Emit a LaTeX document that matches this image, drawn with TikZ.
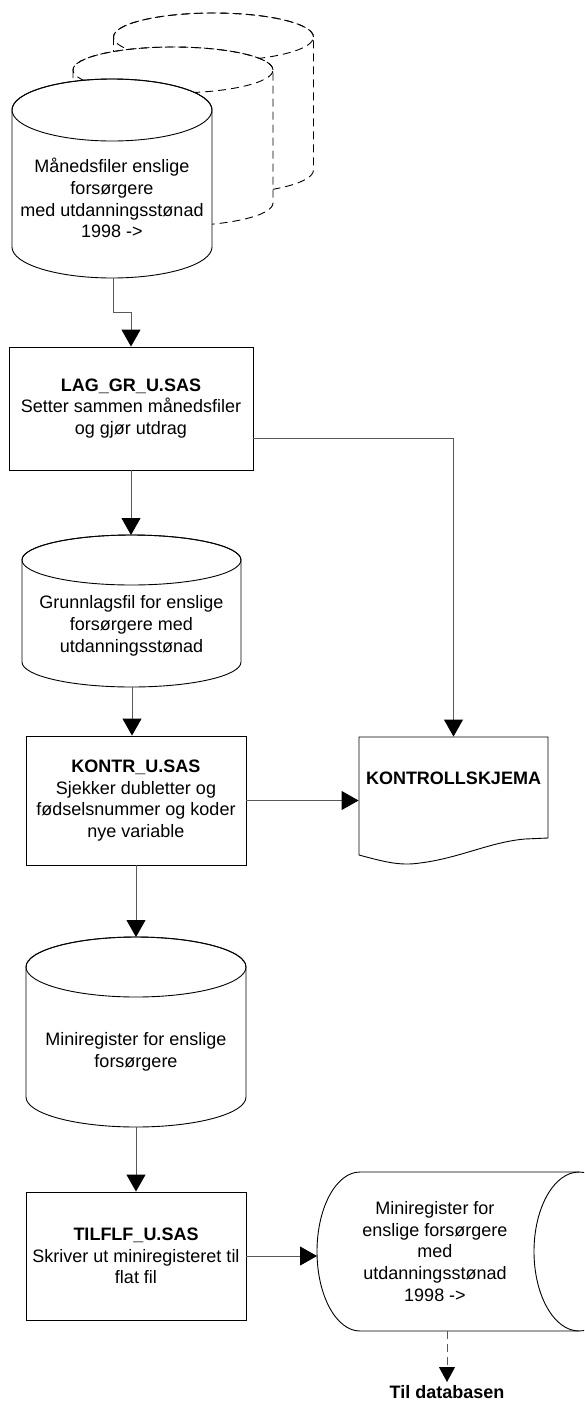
\documentclass[tikz,border=0pt]{standalone}
\usepackage{fontspec}
\setmainfont{Liberation Sans}
\usetikzlibrary{arrows.meta}
% #2 = x of axis, #3 = top of side, #4 = bottom of side, #5 = x radius, #6 = y radius
\newcommand{\drum}[6][]{%
  \filldraw[fill=white,#1] (#2-#5,#3) -- (#2-#5,#4)
    arc[start angle=180,end angle=360,x radius=#5pt,y radius=#6pt]
    -- (#2+#5,#3)
    arc[start angle=0,end angle=180,x radius=#5pt,y radius=#6pt] -- cycle;
  \draw[#1] (#2,#3) ellipse[x radius=#5pt,y radius=#6pt];}

\begin{document}
\begin{tikzpicture}[x=1pt,y=-1pt,line width=0.9pt,
  every node/.style={font=\fontsize{18}{21.7}\selectfont,align=center},
  proc/.style={draw,rectangle,inner sep=0pt},
  dashline/.style={dash pattern=on 8pt off 5pt},
  flow/.style={black!65,-{Triangle[length=17pt,width=19pt,color=black]}}]
  \useasboundingbox (0,0) rectangle (584,1409);
  \clip (0,0) rectangle (584,1409);
  % stack of monthly files
   \drum[dashline]{213.5}{37}{170}{100}{24}
   \drum[dashline]{173}{70}{203}{100}{23}
   \drum{112}{110}{247}{100}{31}
   \coordinate (MfilBot) at (113,278);
  \node (Mfil) at (112,198) {Månedsfiler enslige\\forsørgere\\med utdanningsstønad\\1998 ->};

  \node[proc,minimum width=244pt,minimum height=123pt] (Lag) at (131,408.5)
      {\textbf{LAG\_GR\_U.SAS}\\Setter sammen månedsfiler\\og gjør utdrag};

   \drum{131.5}{560}{662}{109.5}{25}
   \coordinate (GrunnTop) at (131,535);
   \coordinate (GrunnBot) at (132,687);
  \node (Grunn) at (131.5,626) {Grunnlagsfil for enslige\\forsørgere med\\utdanningsstønad};

  \node[proc,minimum width=220pt,minimum height=129pt] (Kontr) at (136,800.5)
      {\textbf{KONTR\_U.SAS}\\Sjekker dubletter og\\fødselsnummer og koder\\nye variable};

  % report sheet
   \filldraw[fill=white] (359,737) -- (548,737) -- (548,838) -- (525,839)
      .. controls (490,842) and (460,858) .. (420,863)
      .. controls (400,866) and (385,862) .. (359,855) -- cycle;
  \node[minimum width=189pt,minimum height=82pt] (Skjema) at (453.5,778) {\textbf{KONTROLLSKJEMA}};

   \drum{136}{967}{1097}{110}{30}
   \coordinate (MiniTop) at (136,937);
   \coordinate (MiniBot) at (136,1127);
  \node (Mini) at (136,1052) {Miniregister for enslige\\forsørgere};

  \node[proc,minimum width=220pt,minimum height=128pt] (Tilflf) at (136,1256)
      {\textbf{TILFLF\_U.SAS}\\Skriver ut miniregisteret til\\flat fil};

  % stored flat file
   \draw (579,1172) -- (360,1172)
      arc[start angle=90,end angle=270,x radius=43pt,y radius=79.5pt] -- (579,1331);
   \draw (579,1251.5) ellipse[x radius=45pt,y radius=79.5pt];
   \coordinate (FlatIn) at (317,1252);
   \coordinate (FlatBot) at (447,1331);
  \node (Flat) at (435,1251.5) {Miniregister for\\enslige forsørgere\\med\\utdanningsstønad\\1998 ->};
  \node[anchor=north,inner sep=3pt] (Db) at (447,1382) {\textbf{Til databasen}};

  % connectors
  \draw[flow] (MfilBot) -- ++(0,34) -| (Lag.north);
  \draw[flow] (Lag.south) -- (GrunnTop);
  \draw[flow] ([yshift=-29.5pt]Lag.east) -| (Skjema.north);
  \draw[flow] (GrunnBot) -- (GrunnBot |- Kontr.north);
  \draw[flow] (Kontr.east) -- (Kontr.east -| Skjema.west);
  \draw[flow] (Kontr.south) -- (MiniTop);
  \draw[flow] (MiniBot) -- (Tilflf.north);
  \draw[flow] (Tilflf.east) -- (Tilflf.east -| FlatIn);
  \draw[flow,dashline,-{Triangle[length=15pt,width=16pt,color=black]}] (FlatBot) -- (Db.north);
\end{tikzpicture}
\end{document}
